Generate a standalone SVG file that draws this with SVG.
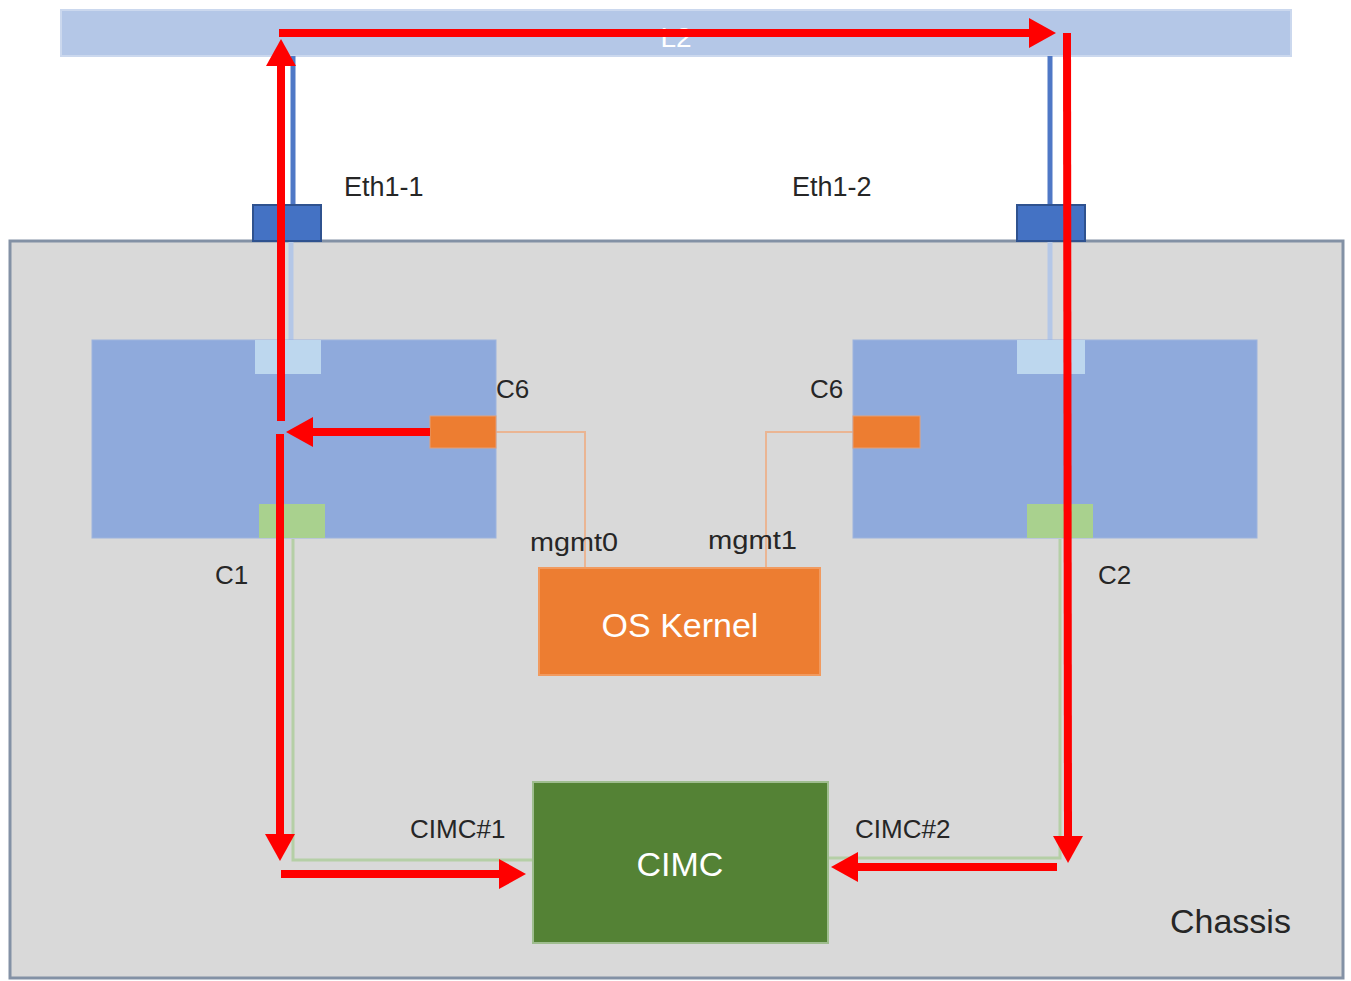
<svg xmlns="http://www.w3.org/2000/svg" width="1351" height="981" viewBox="0 0 1351 981">
<style>
.lbl{font-family:"Liberation Sans",Arial,sans-serif;fill:#262626}
.big{font-family:"Liberation Sans",Arial,sans-serif;fill:#ffffff;font-size:34px;text-anchor:middle}
.red{stroke:#ff0000;stroke-width:8;fill:none}
.blade{fill:#8faadc;stroke:#9db4de;stroke-width:1}
.port{fill:#4472c4;stroke:#2f528f;stroke-width:2}
.orng{fill:#ed7d31;stroke:#e2a07a;stroke-width:1}
.lite{fill:#bdd7ee}
.grn{fill:#a9d18e}
.gline{stroke:#b5cfa6;stroke-width:3;fill:none}
.oline{stroke:#eab593;stroke-width:2;fill:none}
</style>
<defs>
<marker id="ah" markerUnits="userSpaceOnUse" markerWidth="28" markerHeight="30" refX="0" refY="15" orient="auto">
<path d="M0,0 L27,15 L0,30 z" fill="#ff0000"/>
</marker>
</defs>
<rect width="1351" height="981" fill="#ffffff"/>
<g id="L2">
<rect x="61" y="10" width="1230" height="46" fill="#b4c7e7" stroke="#cbd8ee" stroke-width="2"/>
<text x="676" y="47" class="big" font-size="28px" style="font-size:28px">L2</text>
</g>
<g id="chassis">
<rect x="10" y="241" width="1333" height="737" fill="#d9d9d9" stroke="#8391a5" stroke-width="3"/>
<text x="1170" y="933" class="lbl" font-size="34">Chassis</text>
</g>
<g id="uplinks">
<line x1="293" y1="56" x2="293" y2="205" stroke="#4f78c6" stroke-width="5"/>
<line x1="1050" y1="56" x2="1050" y2="205" stroke="#4f78c6" stroke-width="5"/>
<line x1="291" y1="242" x2="291" y2="340" stroke="#b4c7e7" stroke-width="5"/>
<line x1="1050" y1="242" x2="1050" y2="340" stroke="#b4c7e7" stroke-width="5"/>
</g>
<g id="eth1-1">
<rect x="253" y="205" width="68" height="36" class="port"/>
<text x="344" y="196" class="lbl" font-size="27">Eth1-1</text>
</g>
<g id="eth1-2">
<rect x="1017" y="205" width="68" height="36" class="port"/>
<text x="792" y="196" class="lbl" font-size="27">Eth1-2</text>
</g>
<g id="connectors">
<path class="oline" d="M496,432 H585 V568"/>
<path class="oline" d="M853,432 H766 V568"/>
<path class="gline" d="M293,539 V860 H533"/>
<path class="gline" d="M1060,539 V858 H828"/>
</g>
<g id="C1">
<rect x="92" y="340" width="404" height="198" class="blade"/>
<rect x="255" y="340" width="66" height="34" class="lite"/>
<rect x="259" y="504" width="66" height="34" class="grn"/>
<rect x="430" y="416" width="66" height="32" class="orng"/>
<text x="496" y="398" class="lbl" font-size="26">C6</text>
<text x="215" y="584" class="lbl" font-size="26">C1</text>
</g>
<g id="C2">
<rect x="853" y="340" width="404" height="198" class="blade"/>
<rect x="1017" y="340" width="68" height="34" class="lite"/>
<rect x="1027" y="504" width="66" height="34" class="grn"/>
<rect x="853" y="416" width="67" height="32" class="orng"/>
<text x="810" y="398" class="lbl" font-size="26">C6</text>
<text x="1098" y="584" class="lbl" font-size="26">C2</text>
</g>
<g id="os-kernel">
<rect x="539" y="568" width="281" height="107" fill="#ed7d31" stroke="#f19a5f" stroke-width="2"/>
<text x="680" y="637" class="big">OS Kernel</text>
<text x="530" y="551" class="lbl" font-size="26" textLength="88" lengthAdjust="spacingAndGlyphs">mgmt0</text>
<text x="708" y="549" class="lbl" font-size="26" textLength="89" lengthAdjust="spacingAndGlyphs">mgmt1</text>
</g>
<g id="cimc">
<rect x="533" y="782" width="295" height="161" fill="#548235" stroke="#9fbd8f" stroke-width="2"/>
<text x="680" y="876" class="big">CIMC</text>
<text x="410" y="838" class="lbl" font-size="26">CIMC#1</text>
<text x="855" y="838" class="lbl" font-size="26">CIMC#2</text>
</g>
<g id="flow">
<line class="red" x1="430" y1="432" x2="313" y2="432" marker-end="url(#ah)"/>
<line class="red" x1="281" y1="421" x2="281" y2="66" marker-end="url(#ah)"/>
<line class="red" x1="279" y1="33" x2="1029" y2="33" marker-end="url(#ah)"/>
<line class="red" x1="1067" y1="33" x2="1068" y2="836" marker-end="url(#ah)"/>
<line class="red" x1="1057" y1="867" x2="858" y2="867" marker-end="url(#ah)"/>
<line class="red" x1="280" y1="434" x2="280" y2="834" marker-end="url(#ah)"/>
<line class="red" x1="281" y1="874" x2="499" y2="874" marker-end="url(#ah)"/>
</g>
</svg>
